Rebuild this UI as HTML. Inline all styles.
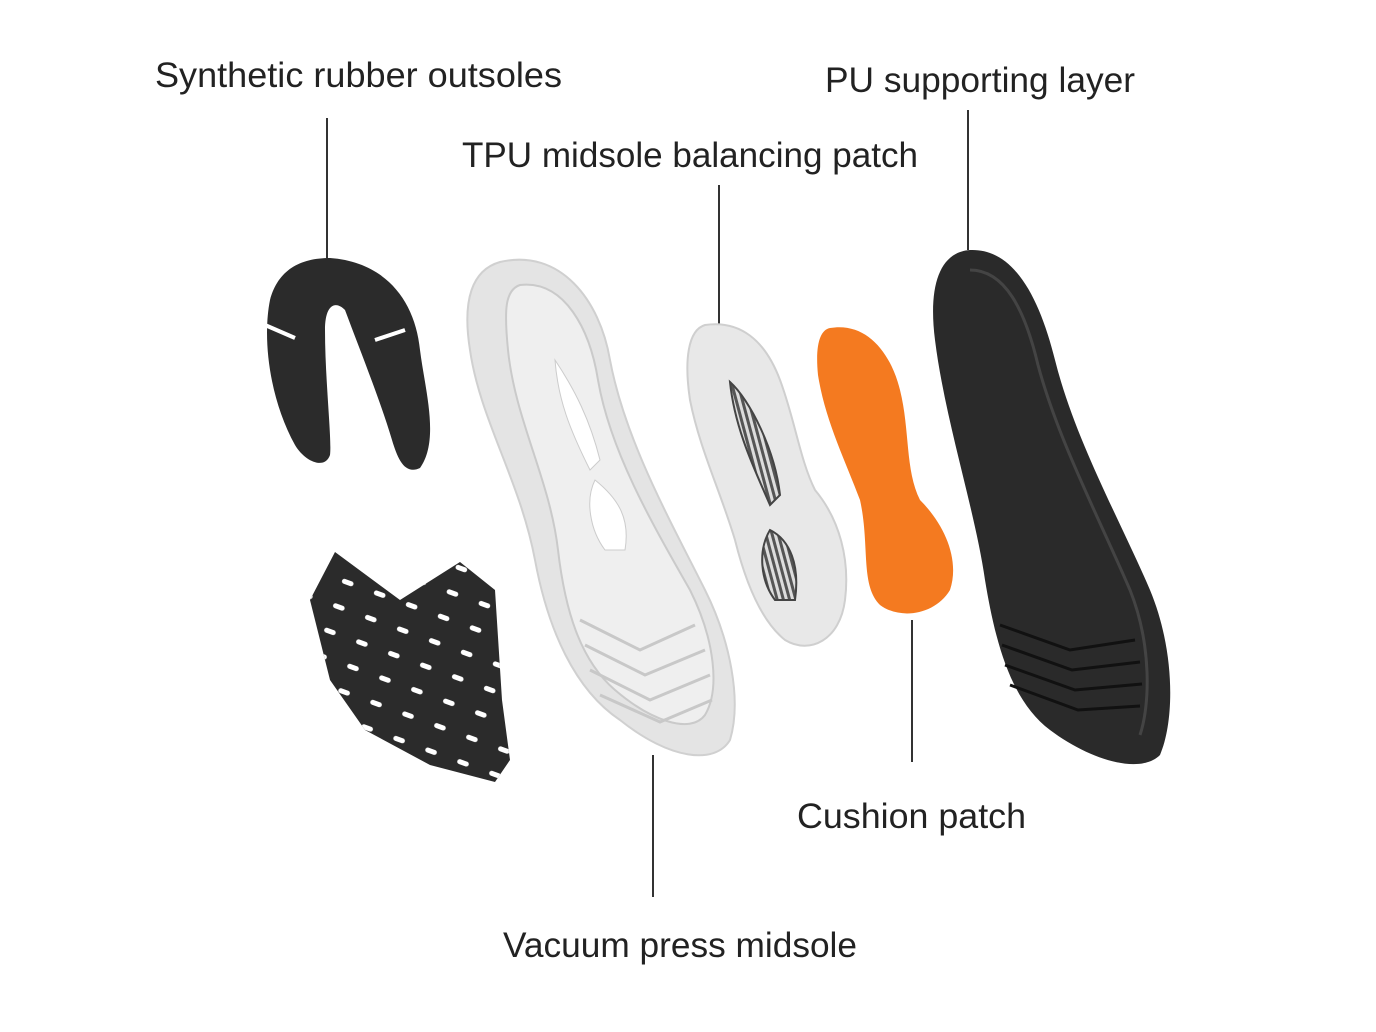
<!DOCTYPE html>
<html><head><meta charset="utf-8"><style>
html,body{margin:0;padding:0;background:#fff;width:1376px;height:1032px;overflow:hidden}
text{font-family:"Liberation Sans",sans-serif;font-size:35px;fill:#222}
</style></head><body>
<svg width="1376" height="1032" viewBox="0 0 1376 1032" xmlns="http://www.w3.org/2000/svg">
<defs>
<pattern id="holes" width="34" height="26" patternUnits="userSpaceOnUse" patternTransform="rotate(20)">
<rect x="10" y="10" width="12" height="5" rx="2.5" fill="#fff"/>
</pattern>
<pattern id="stripes" width="6" height="6" patternUnits="userSpaceOnUse" patternTransform="rotate(-15)">
<rect width="3" height="6" fill="#555"/><rect x="3" width="3" height="6" fill="#ddd"/>
</pattern>
</defs>
<text x="155" y="87" textLength="407" lengthAdjust="spacingAndGlyphs">Synthetic rubber outsoles</text>
<text x="825" y="92" textLength="310" lengthAdjust="spacingAndGlyphs">PU supporting layer</text>
<text x="462" y="167" textLength="456" lengthAdjust="spacingAndGlyphs">TPU midsole balancing patch</text>
<text x="797" y="828" textLength="229" lengthAdjust="spacingAndGlyphs">Cushion patch</text>
<text x="503" y="957" textLength="354" lengthAdjust="spacingAndGlyphs">Vacuum press midsole</text>
<g stroke="#333" stroke-width="2">
<line x1="327" y1="118" x2="327" y2="258"/>
<line x1="719" y1="185" x2="719" y2="325"/>
<line x1="968" y1="110" x2="968" y2="250"/>
<line x1="912" y1="620" x2="912" y2="762"/>
<line x1="653" y1="755" x2="653" y2="897"/>
</g>
<path d="M330,258 C385,262 415,300 420,350 C425,390 440,440 420,468 C405,475 398,460 392,440 C380,400 360,350 345,310 C335,300 325,305 325,330 C325,380 332,440 330,455 C325,470 305,462 295,445 C270,400 262,340 270,300 C278,270 300,258 330,258 Z" fill="#2b2b2b"/>
<line x1="265" y1="325" x2="295" y2="338" stroke="#fff" stroke-width="4"/>
<line x1="375" y1="340" x2="405" y2="330" stroke="#fff" stroke-width="4"/>
<path d="M335,552 L400,600 L460,562 L495,590 L502,700 L510,760 L495,782 L430,765 L365,730 L330,680 L310,600 Z" fill="#2b2b2b"/>
<path d="M335,552 L400,600 L460,562 L495,590 L502,700 L510,760 L495,782 L430,765 L365,730 L330,680 L310,600 Z" fill="url(#holes)"/>
<path d="M500,262 C560,248 600,300 610,360 C625,440 670,520 705,590 C730,640 742,700 730,740 C715,765 670,760 620,720 C575,690 548,630 535,560 C520,480 480,420 470,350 C462,300 472,270 500,262 Z" fill="#e4e4e4" stroke="#d0d0d0" stroke-width="2"/>
<path d="M520,285 C565,280 590,330 598,380 C610,450 650,520 690,590 C715,640 720,690 705,715 C690,735 650,720 615,690 C580,660 565,610 558,550 C550,480 515,420 508,350 C504,310 505,290 520,285 Z" fill="#efefef" stroke="#cacaca" stroke-width="2"/>
<path d="M555,360 C575,390 590,420 600,460 L590,470 C570,430 558,400 555,360 Z" fill="#fff" stroke="#ccc"/>
<path d="M595,480 C620,500 630,520 625,550 L605,550 C590,530 585,500 595,480 Z" fill="#fff" stroke="#ccc"/>
<g stroke="#c8c8c8" stroke-width="3" fill="none">
<path d="M580,620 L640,650 L695,625"/><path d="M585,645 L645,675 L705,650"/>
<path d="M590,670 L650,700 L710,675"/><path d="M600,695 L660,722 L712,700"/>
</g>
<path d="M705,325 C740,320 765,340 780,380 C795,420 800,460 815,490 C840,520 850,560 845,600 C840,640 810,655 785,640 C760,620 745,580 735,540 C720,490 700,450 690,400 C684,360 688,330 705,325 Z" fill="#e8e8e8" stroke="#cfcfcf" stroke-width="2"/>
<path d="M730,382 C750,400 775,450 780,495 L770,505 C755,470 735,430 730,382 Z" fill="url(#stripes)" stroke="#444" stroke-width="2"/>
<path d="M770,530 C790,540 800,565 795,600 L775,600 C760,580 758,550 770,530 Z" fill="url(#stripes)" stroke="#444" stroke-width="2"/>
<path d="M830,328 C865,322 890,350 900,390 C910,430 905,470 920,500 C945,525 960,560 950,590 C935,615 900,620 880,605 C860,585 870,545 860,500 C845,460 825,420 818,375 C815,345 820,330 830,328 Z" fill="#f47a20"/>
<path d="M970,250 C1015,248 1040,300 1055,360 C1075,440 1120,520 1150,590 C1175,650 1175,720 1160,755 C1140,775 1090,760 1050,730 C1010,700 995,640 985,580 C975,510 945,420 935,340 C928,285 940,252 970,250 Z" fill="#2a2a2a"/>
<path d="M970,270 C1005,270 1025,310 1038,365 C1058,440 1100,520 1130,590 C1152,645 1150,705 1140,735" fill="none" stroke="#444" stroke-width="3"/>
<g stroke="#111" stroke-width="3" fill="none">
<path d="M1000,625 L1070,650 L1135,640"/><path d="M1002,645 L1072,670 L1140,662"/>
<path d="M1005,665 L1075,690 L1142,684"/><path d="M1010,685 L1078,710 L1140,706"/>
</g>
</svg>
</body></html>
